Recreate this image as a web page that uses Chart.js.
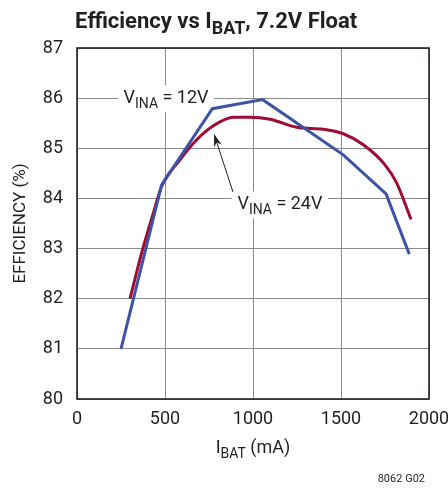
<!DOCTYPE html>
<html><head><meta charset="utf-8">
<script src="https://cdn.jsdelivr.net/npm/chart.js@4.4.0/dist/chart.umd.min.js"></script>
<style>html,body{margin:0;padding:0;background:#fff;}canvas{display:block;}</style>
</head><body>
<canvas id="c" width="448" height="489"></canvas>
<script>
// Data
const xTicks = [0, 500, 1000, 1500, 2000];
const yTicks = [80, 81, 82, 83, 84, 85, 86, 87];
const v12_I   = [250, 481, 769, 1055, 1513, 1756, 1888];
const v12_eff = [81.0, 84.27, 85.79, 85.97, 84.87, 84.09, 82.89];
const v24_I   = [301, 367, 434, 481, 585, 680, 775, 889, 983, 1097, 1248, 1400, 1513, 1627, 1750, 1816, 1898];
const v24_eff = [82.0, 82.91, 83.71, 84.24, 84.77, 85.17, 85.45, 85.62, 85.62, 85.58, 85.42, 85.38, 85.29, 85.07, 84.67, 84.31, 83.58];

const FONT = 'Roboto,"Liberation Sans",sans-serif';
const INK = '#231f20';

function pts(xs, ys){ return xs.map((x,i)=>({x:x, y:ys[i]})); }

function drawParts(ctx, parts, x, y, size, weight, align){
  const subSize = Math.round(size*0.8);
  let w = 0;
  parts.forEach(p=>{ ctx.font = weight+' '+(p.s?subSize:size)+'px '+FONT; p.w = ctx.measureText(p.t).width; w += p.w; });
  let cx = align==='center' ? x - w/2 : x;
  ctx.textAlign='left'; ctx.textBaseline='alphabetic'; ctx.fillStyle=INK;
  parts.forEach(p=>{ ctx.font = weight+' '+(p.s?subSize:size)+'px '+FONT; ctx.fillText(p.t, cx, y + (p.s? size*0.25:0)); cx += p.w; });
  return w;
}

const annot = {
  id:'annot',
  beforeDatasetsDraw(chart){
    const ctx = chart.ctx, xs = chart.scales.x, ys = chart.scales.y;
    ctx.save();
    const labels = [
      {x:506, y:86.0, parts:[{t:'V'},{t:'INA',s:true},{t:' = 12V'}]},
      {x:1153, y:83.88, parts:[{t:'V'},{t:'INA',s:true},{t:' = 24V'}]}
    ];
    labels.forEach(l=>{
      const px = xs.getPixelForValue(l.x), py = ys.getPixelForValue(l.y);
      ctx.fillStyle='#fff';
      ctx.fillRect(px-48, py-13, 96, 27);
      drawParts(ctx, l.parts, px, py+5, 18, 'normal', 'center');
    });
    const tx = xs.getPixelForValue(886), ty = ys.getPixelForValue(84.13);
    const hx = xs.getPixelForValue(778), hy = ys.getPixelForValue(85.29);
    const ang = Math.atan2(hy-ty, hx-tx);
    const c = Math.cos(ang), s = Math.sin(ang);
    ctx.strokeStyle = INK; ctx.lineWidth = 1;
    ctx.beginPath(); ctx.moveTo(tx,ty); ctx.lineTo(hx-8*c, hy-8*s); ctx.stroke();
    ctx.fillStyle = INK;
    ctx.beginPath();
    ctx.moveTo(hx,hy);
    ctx.lineTo(hx-13*c+4*s, hy-13*s-4*c);
    ctx.lineTo(hx-9*c, hy-9*s);
    ctx.lineTo(hx-13*c-4*s, hy-13*s+4*c);
    ctx.closePath(); ctx.fill();
    ctx.restore();
  },
  afterDraw(chart){
    const ctx = chart.ctx, a = chart.chartArea;
    ctx.save();
    ctx.strokeStyle = INK; ctx.lineWidth = 1.6;
    ctx.strokeRect(a.left, a.top, a.right-a.left, a.bottom-a.top);
    drawParts(ctx, [{t:'Efficiency vs I'},{t:'BAT',s:true},{t:', 7.2V Float'}], 75, 28, 22, 'bold', 'left');
    drawParts(ctx, [{t:'I'},{t:'BAT',s:true},{t:' (mA)'}], (a.left+a.right)/2, 453, 18, 'normal', 'center');
    ctx.translate(25, (a.top+a.bottom)/2);
    ctx.rotate(-Math.PI/2);
    ctx.font = '17px '+FONT; ctx.fillStyle = INK; ctx.textAlign='center'; ctx.textBaseline='alphabetic';
    ctx.fillText('EFFICIENCY (%)', 0, 0);
    ctx.setTransform(1,0,0,1,0,0);
    ctx.font = '11px '+FONT; ctx.textAlign='right';
    ctx.fillText('8062 G02', 425, 482);
    ctx.restore();
  }
};

new Chart(document.getElementById('c'), {
  type:'scatter',
  data:{ datasets:[
    {data: pts(v12_I, v12_eff), showLine:true, borderColor:'#3d54a6', borderWidth:3, pointRadius:0, tension:0, fill:false},
    {data: pts(v24_I, v24_eff), showLine:true, borderColor:'#9e0b33', borderWidth:3, pointRadius:0, tension:0.4, cubicInterpolationMode:'monotone', fill:false}
  ]},
  options:{
    responsive:false, animation:false, devicePixelRatio:1,
    layout:{padding:{top:48, right:19, left:0, bottom:0}},
    plugins:{legend:{display:false}, tooltip:{enabled:false}, title:{display:false}},
    scales:{
      x:{ type:'linear', min:0, max:2000,
        afterBuildTicks(s){ s.ticks = xTicks.map(v=>({value:v})); },
        afterFit(s){ s.height = 90; s.paddingLeft = 0; s.paddingRight = 0; },
        grid:{color:'#8a8a8a', lineWidth:1, drawTicks:false},
        border:{display:false},
        ticks:{padding:10, color:INK, font:{family:FONT, size:18}, maxRotation:0, autoSkip:false, callback:(v)=>String(v)}
      },
      y:{ type:'linear', min:80, max:87,
        afterBuildTicks(s){ s.ticks = yTicks.map(v=>({value:v})); },
        afterFit(s){ s.width = 77; s.paddingTop = 0; s.paddingBottom = 0; },
        grid:{color:'#8a8a8a', lineWidth:1, drawTicks:false},
        border:{display:false},
        ticks:{padding:14, color:INK, font:{family:FONT, size:18}, callback:(v)=>String(v)}
      }
    }
  },
  plugins:[annot]
});
</script>
</body></html>
